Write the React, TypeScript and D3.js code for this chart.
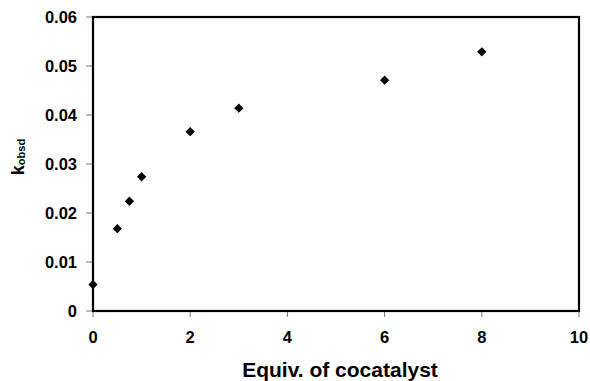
import React from "react";
import * as d3 from "d3";

// Observed rate constant vs. equivalents of cocatalyst
const equivalents = [0, 0.5, 0.75, 1, 2, 3, 6, 8];
const kObsd = [0.0054, 0.0168, 0.0224, 0.0274, 0.0366, 0.0414, 0.0471, 0.0529];
const xTicks = [0, 2, 4, 6, 8, 10];
const yTicks = [0, 0.01, 0.02, 0.03, 0.04, 0.05, 0.06];
const yTickLabels = ["0", "0.01", "0.02", "0.03", "0.04", "0.05", "0.06"];

const W = 590;
const H = 381;
const M = { left: 93, right: 11, top: 17, bottom: 70 };
const FONT = "'Liberation Sans', Arial, sans-serif";

export default function App() {
  const x = d3.scaleLinear().domain([0, 10]).range([M.left, W - M.right]);
  const y = d3.scaleLinear().domain([0, 0.06]).range([H - M.bottom, M.top]);
  const diamond = d3.symbol().type(d3.symbolDiamond2).size(55)();
  const [x0, x1] = x.range();
  const [y0, y1] = y.range();

  return (
    <svg
      width={W}
      height={H}
      style={{ position: "absolute", left: 0, top: 0, background: "#fff" }}
      fontFamily={FONT}
    >
      {/* y ticks and labels */}
      {yTicks.map((t, i) => (
        <g key={"y" + i}>
          <line x1={x0 - 7} x2={x0} y1={y(t)} y2={y(t)} stroke="#777" strokeWidth={1} />
          <text
            x={77}
            y={y(t)}
            dy="0.36em"
            textAnchor="end"
            fontSize={16.5}
            fontWeight="bold"
            fill="#000"
          >
            {yTickLabels[i]}
          </text>
        </g>
      ))}
      {/* x ticks and labels */}
      {xTicks.map((t) => (
        <g key={"x" + t}>
          <line x1={x(t)} x2={x(t)} y1={y0} y2={y0 + 6} stroke="#777" strokeWidth={1} />
          <text
            x={x(t)}
            y={343}
            textAnchor="middle"
            fontSize={16.5}
            fontWeight="bold"
            fill="#000"
          >
            {t}
          </text>
        </g>
      ))}
      {/* plot frame */}
      <rect
        x={x0}
        y={y1}
        width={x1 - x0}
        height={y0 - y1}
        fill="none"
        stroke="#000"
        strokeWidth={2.2}
      />
      {/* data points */}
      {equivalents.map((e, i) => (
        <path key={"p" + i} d={diamond ?? ""} transform={`translate(${x(e)},${y(kObsd[i])})`} fill="#000" />
      ))}
      {/* axis titles */}
      <text
        x={(x0 + x1) / 2 + 4}
        y={376.5}
        textAnchor="middle"
        fontSize={21}
        fontWeight="bold"
        fill="#000"
      >
        Equiv. of cocatalyst
      </text>
      <text
        transform={`translate(24,157) rotate(-90)`}
        textAnchor="middle"
        fontSize={18}
        fontWeight="bold"
        fill="#000"
      >
        k
        <tspan fontSize={11} dy={1}>obsd</tspan>
      </text>
    </svg>
  );
}
